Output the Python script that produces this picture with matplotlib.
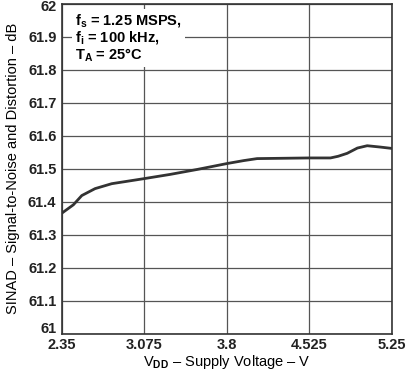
import matplotlib
matplotlib.use("Agg")
import matplotlib.pyplot as plt
from matplotlib.transforms import ScaledTranslation

plt.rcParams['font.family'] = ['Liberation Sans', 'DejaVu Sans']
plt.rcParams['font.weight'] = 'bold'
plt.rcParams['mathtext.fontset'] = 'custom'
plt.rcParams['mathtext.rm'] = 'Liberation Sans:bold'
plt.rcParams['mathtext.it'] = 'Liberation Sans:bold'
plt.rcParams['mathtext.bf'] = 'Liberation Sans:bold'
plt.rcParams['mathtext.default'] = 'rm'

# supply voltage (V) and SINAD (dB)
vdd = [2.35, 2.45, 2.524, 2.641, 2.788, 2.9, 3.067, 3.3, 3.538, 3.7, 3.802,
       3.95, 4.067, 4.3, 4.525, 4.713, 4.78, 4.86, 4.95, 5.036, 5.15, 5.25]
sinad = [61.365, 61.39, 61.418, 61.439, 61.454, 61.46, 61.469, 61.482, 61.497,
         61.508, 61.515, 61.524, 61.530, 61.531, 61.532, 61.532, 61.537, 61.546,
         61.562, 61.569, 61.565, 61.561]

xticks = [2.35, 3.075, 3.8, 4.525, 5.25]
xtick_labels = ['2.35', '3.075', '3.8', '4.525', '5.25']
yticks = [61, 61.1, 61.2, 61.3, 61.4, 61.5, 61.6, 61.7, 61.8, 61.9, 62]
ytick_labels = ['61', '61.1', '61.2', '61.3', '61.4', '61.5', '61.6', '61.7', '61.8', '61.9', '62']

fig = plt.figure(figsize=(4.07, 3.72), dpi=100)
ax = fig.add_axes([62 / 407, 1 - 333.5 / 372, 329.5 / 407, 330 / 372])

ax.plot(vdd, sinad, color='#333333', linewidth=2)

ax.set_xlim(2.35, 5.25)
ax.set_ylim(61, 62)
ax.set_xticks(xticks)
ax.set_xticklabels(xtick_labels)
ax.set_yticks(yticks)
ax.set_yticklabels(ytick_labels)
ax.tick_params(axis='both', length=0, labelsize=10.5, colors='#222222')
ax.tick_params(axis='x', pad=3)
ax.tick_params(axis='y', pad=4)
ax.grid(True, color='#555555', linewidth=0.9)
for s in ax.spines.values():
    s.set_color('#333333')
    s.set_linewidth(1.2)

# nudge the end labels inward like the reference
ylabels = ax.get_yticklabels()
ylabels[0].set_transform(ylabels[0].get_transform() + ScaledTranslation(0, 4 / 72, fig.dpi_scale_trans))
ylabels[-1].set_transform(ylabels[-1].get_transform() + ScaledTranslation(0, -1.5 / 72, fig.dpi_scale_trans))

ax.set_xlabel(r'V$_{DD}$ – Supply Voltage – V', fontsize=10.5, labelpad=1)
ax.set_ylabel('SINAD – Signal-to-Noise and Distortion – dB', fontsize=10.5, labelpad=6)

ax.text(0.04, 0.975,
        'f$_{s}$ = 1.25 MSPS,\nf$_{i}$ = 100 kHz,\nT$_{A}$ = 25°C',
        transform=ax.transAxes, fontsize=10.5, va='top', ha='left',
        linespacing=1.05,
        bbox=dict(facecolor='white', edgecolor='none', pad=2))

fig.savefig('out.png', dpi=100)
